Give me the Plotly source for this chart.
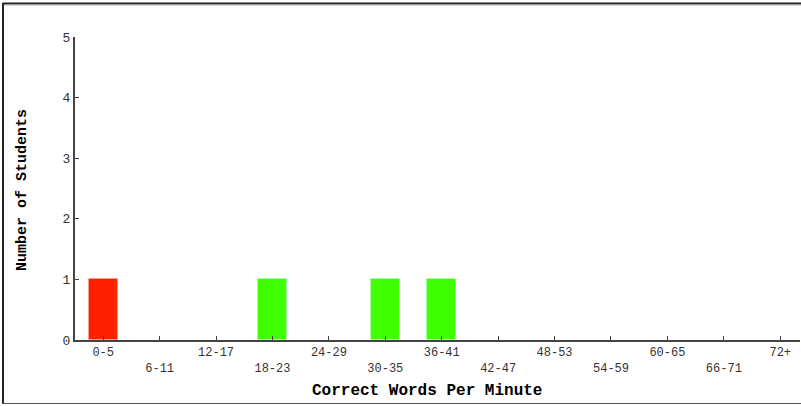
import plotly.graph_objects as go

# reading-fluency histogram
categories = ["0-5", "6-11", "12-17", "18-23", "24-29", "30-35", "36-41",
              "42-47", "48-53", "54-59", "60-65", "66-71", "72+"]
students = [1, 0, 0, 1, 0, 1, 1, 0, 0, 0, 0, 0, 0]
bar_colors = ["#ff2000", "#40ff00", "#40ff00", "#40ff00", "#40ff00", "#40ff00", "#40ff00",
              "#40ff00", "#40ff00", "#40ff00", "#40ff00", "#40ff00", "#40ff00"]
edge_colors = ["#ff9a8a", "#a8ffa0", "#a8ffa0", "#a8ffa0", "#a8ffa0", "#a8ffa0", "#a8ffa0",
               "#a8ffa0", "#a8ffa0", "#a8ffa0", "#a8ffa0", "#a8ffa0", "#a8ffa0"]
y_ticks = [0, 1, 2, 3, 4, 5]

# stagger the x labels on two rows
tick_text = [c if i % 2 == 0 else "<br>" + c for i, c in enumerate(categories)]
positions = list(range(len(categories)))
edge_widths = [1 if v > 0 else 0 for v in students]

W, H = 801, 406
L, R, T, B = 75, 1, 37, 66
pw, ph = W - L - R, H - T - B


def px_x(x):
    return (x - L) / pw


def px_y(y):
    return (H - B - y) / ph


fig = go.Figure()
fig.add_trace(go.Bar(
    x=positions,
    y=students,
    width=0.51,
    marker=dict(color=bar_colors, line=dict(color=edge_colors, width=edge_widths)),
    hoverinfo="skip",
))

mono = "Liberation Mono, DejaVu Sans Mono, monospace"

fig.update_layout(
    width=W, height=H,
    margin=dict(l=L, r=R, t=T, b=B),
    paper_bgcolor="white", plot_bgcolor="white",
    showlegend=False,
    bargap=0,
    font=dict(family=mono, size=13, color="#333333"),
    xaxis=dict(
        range=[-0.5, 12.35],
        tickmode="array", tickvals=positions, ticktext=tick_text,
        ticks="inside", ticklen=4, tickcolor="#444444", tickwidth=1,
        showline=True, linecolor="#444444", linewidth=2,
        showgrid=False, zeroline=False,
        tickfont=dict(family=mono, size=12, color="#333333"),
    ),
    yaxis=dict(
        range=[0, 5],
        tickmode="array", tickvals=y_ticks,
        ticks="inside", ticklen=4, tickcolor="#444444", tickwidth=1,
        showline=True, linecolor="#444444", linewidth=2,
        showgrid=False, zeroline=False,
        tickfont=dict(family=mono, size=13, color="#333333"),
    ),
    annotations=[
        dict(text="<b>Correct Words Per Minute</b>", xref="paper", yref="paper",
             x=px_x(427), y=px_y(391), xanchor="center", yanchor="middle",
             showarrow=False, font=dict(family=mono, size=16, color="black")),
        dict(text="<b>Number of Students</b>", xref="paper", yref="paper",
             x=px_x(22), y=px_y(190), xanchor="center", yanchor="middle",
             textangle=-90, showarrow=False,
             font=dict(family=mono, size=15, color="black")),
    ],
    shapes=[
        dict(type="line", xref="paper", yref="paper", layer="above",
             x0=px_x(2.5), x1=px_x(802), y0=px_y(3.5), y1=px_y(3.5),
             line=dict(color="#222222", width=2)),
        dict(type="line", xref="paper", yref="paper", layer="above",
             x0=px_x(3.5), x1=px_x(802), y0=px_y(5), y1=px_y(5),
             line=dict(color="#aaaaaa", width=1)),
        dict(type="line", xref="paper", yref="paper", layer="above",
             x0=px_x(3), x1=px_x(3), y0=px_y(3), y1=px_y(404),
             line=dict(color="#222222", width=2)),
        dict(type="line", xref="paper", yref="paper", layer="above",
             x0=px_x(2), x1=px_x(802), y0=px_y(403.5), y1=px_y(403.5),
             line=dict(color="#555555", width=1)),
    ],
)

# drop the browser's default body margin so the figure sits at 0,0
fig.write_html("out.html", config={"displayModeBar": False},
               post_script="document.body.style.margin='0';")
